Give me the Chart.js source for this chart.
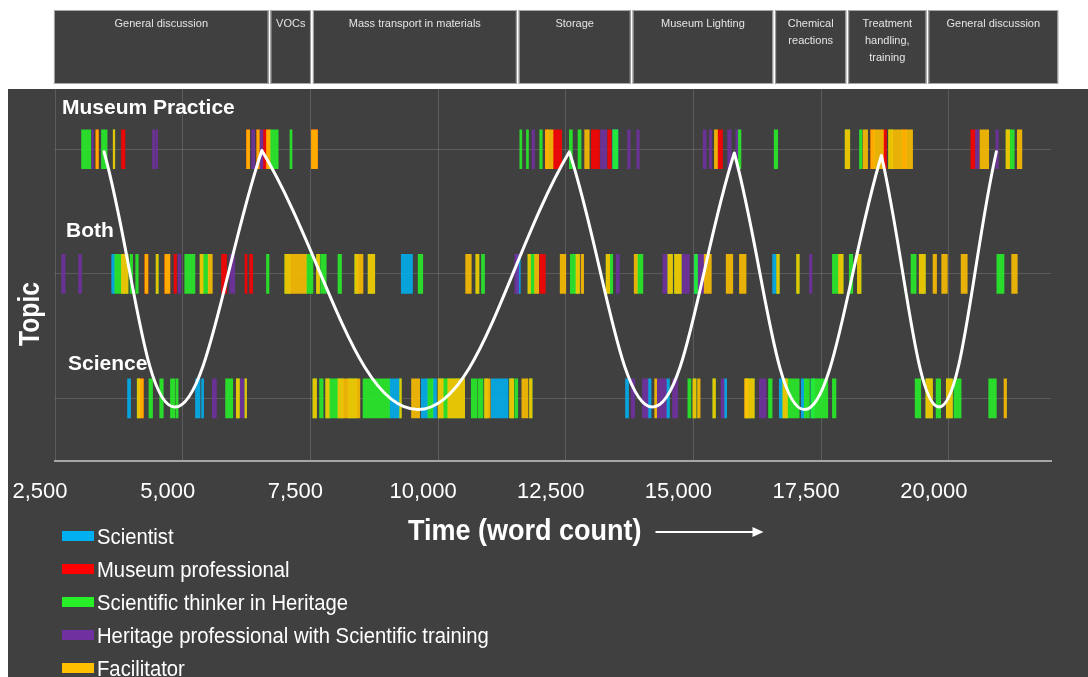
<!DOCTYPE html>
<html>
<head>
<meta charset="utf-8">
<script src="https://cdn.jsdelivr.net/npm/chart.js@4.4.0/dist/chart.umd.min.js"></script>
<style>
html, body { margin: 0; padding: 0; background: #fff; }
#wrap { position: relative; width: 1088px; height: 677px; overflow: hidden; }
#legend { position: absolute; left: 62px; top: 518px; }
#legend div { height: 33px; line-height: 33px; color: #fff; white-space: nowrap;
  font-family: "Liberation Sans", Arial, sans-serif; font-size: 22.5px; }
#legend span.box { display: inline-block; width: 32px; height: 10px; margin-right: 3px; vertical-align: middle; }
#legend span.txt { display: inline-block; transform: scaleX(0.9); transform-origin: left center; vertical-align: middle; }
</style>
</head>
<body>
<div id="wrap">
  <canvas id="TopicChart" width="1088" height="677"></canvas>
  <div id="legend"></div>
</div>
<script>
// rows of the topic axis (y = 1, 2, 3)
var rows = ['Science', 'Both', 'Museum Practice'];

// x axis ticks (word count)
var wordTicks = [2500, 5000, 7500, 10000, 12500, 15000, 17500, 20000];

// who spoke
var speakers = ['Scientist', 'Museum professional', 'Scientific thinker in Heritage',
  'Heritage professional with Scientific training', 'Facilitator'];
var palette = ['rgb(0, 176, 240)', 'rgb(255, 0, 0)', 'rgb(40, 240, 40)', 'rgb(112, 48, 160)', 'rgb(255, 192, 0)'];

// topic sections along the top (word count edges)
var sectionNames = ['General discussion', 'VOCs', 'Mass transport in materials', 'Storage',
  'Museum Lighting', 'Chemical\nreactions', 'Treatment\nhandling,\ntraining', 'General discussion'];
var sectionEdges = [2460, 6700, 7530, 11560, 13790, 16580, 18010, 19580, 22160];

// speaking turns: [start word, end word, row]
var scientistTurns = [
  [3610,3670,2],[9280,9500,2],[11540,11610,2],[16550,16620,2],
  [3920,3980,1],[5250,5340,1],[5370,5410,1],[9050,9250,1],[9670,9800,1],[9900,9970,1],[11040,11370,1],
  [13670,13730,1],[14110,14170,1],[14470,14530,1],[15600,15650,1],[16680,16750,1],[17110,17170,1]
];
var museumProTurns = [
  [3800,3870,3],[6570,6640,3],[12250,12420,3],[13000,13160,3],[13320,13390,3],[15470,15570,3],[18720,18780,3],[20430,20520,3],
  [4830,4880,2],[5760,5860,2],[6220,6260,2],[6310,6370,2],[11990,12100,2]
];
var thinkerTurns = [
  [3020,3200,3],[3410,3520,3],[6710,6870,3],[7100,7140,3],[11600,11640,3],[11730,11770,3],[11990,12040,3],[12570,12630,3],
  [12740,12800,3],[15880,15930,3],[16580,16650,3],[18250,18300,3],[21190,21280,3],
  [3670,3800,2],[3970,4020,2],[4080,4130,2],[5040,5240,2],[5400,5500,2],[6640,6690,2],[7420,7550,2],[7700,7810,2],
  [8040,8110,2],[9610,9700,2],[10850,10910,2],[11810,11890,2],[12590,12700,2],[13360,13420,2],[13900,14010,2],
  [17720,17840,2],[18050,18120,2],[19260,19360,2],[20940,21080,2],
  [4340,4410,1],[4550,4620,1],[4760,4850,1],[4870,4910,1],[5840,5980,1],[7680,7750,1],[7870,8040,1],[8530,9050,1],
  [9800,9900,1],[10100,10190,1],[10650,10760,1],[10780,10880,1],[11500,11560,1],[14890,14950,1],[16470,16540,1],
  [16840,17070,1],[17170,17270,1],[17370,17630,1],[17720,17790,1],[19340,19450,1],[19750,19840,1],[20100,20240,1],[20780,20930,1]
];
var heritageProTurns = [
  [3220,3250,3],[4410,4460,3],[4480,4510,3],[6350,6410,3],[6510,6570,3],[11840,11890,3],[13180,13300,3],[13710,13760,3],
  [13890,13940,3],[15190,15250,3],[15310,15360,3],[15670,15740,3],[15830,15880,3],[20520,20590,3],[20920,20970,3],
  [2630,2700,2],[2960,3020,2],[4910,4960,2],[5920,6020,2],[11500,11580,2],[13490,13550,2],[14400,14500,2],[14760,14920,2],
  [15080,15210,2],[17270,17320,2],
  [5580,5660,1],[6120,6220,1],[13780,13850,1],[14000,14110,1],[14290,14470,1],[14590,14690,1],[15540,15600,1],[16290,16420,1]
];
var facilitatorTurns = [
  [12150,12250,3],[12870,12960,3],[15410,15470,3],[18320,18410,3],[18540,18720,3],[18900,19090,3],[19160,19290,3],
  [20610,20780,3],[21340,21430,3],
  [5500,5580,2],[7100,7420,2],[8430,8530,2],[10540,10650,2],[11890,11970,2],[12390,12500,2],[12800,12850,2],[13840,13900,2],
  [15210,15350,2],[15640,15770,2],[15900,16030,2],[19690,19760,2],[19860,19970,2],[20240,20360,2],[21230,21340,2],
  [8140,8240,1],[8400,8470,1],[9480,9640,1],[10960,11020,1],[11640,11760,1],[14240,14280,1],[15080,15130,1],[16000,16060,1],[21080,21130,1]
];
// turns where two colours overlap in the picture
var orangeTurns = [ // museum professional + facilitator
  [3300,3350,3],[6250,6310,3],[6450,6500,3],[6640,6710,3],[7520,7640,3],[12100,12150,3],[18470,18540,3],[19090,19160,3],
  [4260,4320,2],[4650,4750,2],
  [4160,4230,1]
];
var oliveTurns = [ // scientific thinker + facilitator
  [3640,3670,3],[17970,18060,3],[18820,18900,3],[21120,21190,3],
  [3800,3930,2],[4480,4520,2],[5340,5400,2],[7000,7100,2],[7620,7680,2],[8370,8430,2],[8630,8760,2],[10740,10800,2],
  [11760,11810,2],[12700,12770,2],[13290,13360,2],[14500,14590,2],[14630,14760,2],[16630,16680,2],[17020,17070,2],
  [17840,17930,2],[18210,18280,2],[19420,19540,2],
  [4110,4160,1],[6050,6110,1],[6220,6250,1],[7550,7620,1],[7800,7870,1],[8040,8140,1],[8240,8400,1],[9250,9280,1],
  [10000,10100,1],[10190,10520,1],[10910,10960,1],[11400,11480,1],[11790,11840,1],[14990,15050,1],[15380,15430,1],
  [16020,16190,1],[16750,16840,1],[19550,19680,1],[19950,20070,1]
];
var tealTurns = [ // scientist + scientific thinker
  [13420,13520,3],[15020,15080,2],[17300,17370,1]
];

// white topic curve: turning points
var curveWords = [3460, 4850, 6550, 9600, 12570, 14200, 15800, 17170, 18680, 19810, 20930];
var curveLevel = [2.98, 0.93, 2.99, 0.91, 2.98, 0.93, 2.97, 0.91, 2.95, 0.93, 2.98];

var sansFont = '"Liberation Sans", Arial, sans-serif';

function toBars(list) {
  return list.map(function (s) { return { x: [s[0], s[1]], y: s[2] }; });
}

function withAlpha(c, a) {
  return c.replace('rgb(', 'rgba(').replace(')', ', ' + a + ')');
}

// text squeezed sideways, the picture uses a narrow face
function narrowText(ctx, text, x, y, sx) {
  ctx.save();
  ctx.translate(x, y);
  ctx.scale(sx, 1);
  ctx.fillText(text, 0, 0);
  ctx.restore();
}

var turnsBySpeaker = [
  scientistTurns.concat(tealTurns),
  museumProTurns.concat(orangeTurns),
  thinkerTurns.concat(oliveTurns, tealTurns),
  heritageProTurns,
  facilitatorTurns.concat(orangeTurns, oliveTurns)
];
// drawing order: facilitator on top, scientist at the bottom
var drawOrder = [5, 4, 2, 3, 1];

var datasets = speakers.map(function (name, i) {
  return {
    label: name,
    type: 'bar',
    indexAxis: 'y',
    grouped: false,
    order: drawOrder[i],
    data: toBars(turnsBySpeaker[i]),
    backgroundColor: withAlpha(palette[i], 0.88),
    borderWidth: 0,
    barThickness: 39
  };
});

// the curve turns sharply at the top, so the inner peaks are given twice
var curvePoints = [];
curveWords.forEach(function (w, i) {
  curvePoints.push({ x: w, y: curveLevel[i] });
  if (i > 0 && i < curveWords.length - 1 && curveLevel[i] > 2) curvePoints.push({ x: w, y: curveLevel[i] });
});

datasets.push({
  label: 'Topic',
  type: 'line',
  indexAxis: 'x',
  order: 0,
  data: curvePoints,
  borderColor: '#ffffff',
  borderWidth: 3,
  pointRadius: 0,
  tension: 0.4,
  borderJoinStyle: 'round',
  borderCapStyle: 'round',
  fill: false
});

var rowLabelLift = [34, 43, 41];
var rowLabelLeft = [68, 66, 62];

var decor = {
  id: 'decor',
  beforeDraw: function (chart) {
    var ctx = chart.ctx, xs = chart.scales.x;
    ctx.save();
    ctx.fillStyle = '#ffffff';
    ctx.fillRect(0, 0, chart.width, chart.height);
    ctx.fillStyle = '#404040';
    ctx.fillRect(8, 89, chart.width - 8, chart.height - 89);

    // topic sections
    ctx.font = '11px ' + sansFont;
    ctx.textAlign = 'center';
    ctx.textBaseline = 'middle';
    for (var i = 0; i < sectionNames.length; i++) {
      var x0 = xs.getPixelForValue(sectionEdges[i]);
      var x1 = xs.getPixelForValue(sectionEdges[i + 1]);
      ctx.fillStyle = '#404040';
      ctx.fillRect(x0 + 1, 10, x1 - x0 - 2, 74);
      ctx.strokeStyle = '#a8a8a8';
      ctx.lineWidth = 1;
      ctx.strokeRect(x0 + 1.5, 10.5, x1 - x0 - 3, 73);
      ctx.fillStyle = '#e4e4e4';
      sectionNames[i].split('\n').forEach(function (line, k) {
        ctx.fillText(line, (x0 + x1) / 2, 24 + k * 17);
      });
    }
    ctx.restore();
  },
  afterDraw: function (chart) {
    var ctx = chart.ctx, ys = chart.scales.y;
    ctx.save();
    ctx.fillStyle = '#ffffff';
    ctx.textBaseline = 'middle';
    ctx.textAlign = 'left';

    // row names
    ctx.font = 'bold 21px ' + sansFont;
    rows.forEach(function (name, i) {
      ctx.fillText(name, rowLabelLeft[i], ys.getPixelForValue(i + 1) - rowLabelLift[i]);
    });

    // x title with arrow
    ctx.font = 'bold 30px ' + sansFont;
    var title = 'Time (word count)';
    narrowText(ctx, title, 408, 532, 0.9);
    var ax = 408 + ctx.measureText(title).width * 0.9 + 14;
    ctx.strokeStyle = '#ffffff';
    ctx.lineWidth = 2;
    ctx.beginPath();
    ctx.moveTo(ax, 532);
    ctx.lineTo(ax + 100, 532);
    ctx.stroke();
    ctx.beginPath();
    ctx.moveTo(ax + 108, 532);
    ctx.lineTo(ax + 97, 527);
    ctx.lineTo(ax + 97, 537);
    ctx.closePath();
    ctx.fill();

    // y title
    ctx.translate(31, 314);
    ctx.rotate(-Math.PI / 2);
    ctx.textAlign = 'center';
    ctx.font = 'bold 29px ' + sansFont;
    narrowText(ctx, 'Topic', 0, 0, 0.85);
    ctx.restore();
  }
};

var gridColor = 'rgba(255, 255, 255, 0.15)';

var chart = new Chart(document.getElementById('TopicChart').getContext('2d'), {
  type: 'bar',
  data: { datasets: datasets },
  plugins: [decor],
  options: {
    responsive: false,
    devicePixelRatio: 1,
    animation: false,
    layout: { padding: { left: 55, right: 37, top: 87, bottom: 154 } },
    plugins: { legend: { display: false }, tooltip: { enabled: false } },
    scales: {
      x: {
        type: 'linear',
        min: 2500,
        max: 22000,
        offset: false,
        beginAtZero: false,
        afterBuildTicks: function (axis) {
          axis.ticks = wordTicks.map(function (v) { return { value: v }; });
        },
        ticks: {
          color: '#ffffff',
          padding: 18,
          labelOffset: -15,
          maxRotation: 0,
          autoSkip: false,
          font: { family: sansFont, size: 22 },
          callback: function (v) { return Number(v).toLocaleString('en-US'); }
        },
        grid: { color: gridColor, drawTicks: false, offset: false },
        border: { color: 'rgba(200, 200, 200, 0.75)', width: 2 }
      },
      y: {
        type: 'linear',
        min: 0.5,
        max: 3.5,
        offset: false,
        beginAtZero: false,
        afterBuildTicks: function (axis) {
          axis.ticks = [1, 2, 3].map(function (v) { return { value: v }; });
        },
        ticks: { display: false },
        grid: { color: gridColor, drawTicks: false, offset: false },
        border: { display: false }
      }
    }
  }
});

// legend list under the chart
var legendBox = document.getElementById('legend');
speakers.forEach(function (name, i) {
  var row = document.createElement('div');
  var box = document.createElement('span');
  box.className = 'box';
  box.style.background = palette[i];
  var txt = document.createElement('span');
  txt.className = 'txt';
  txt.textContent = name;
  row.appendChild(box);
  row.appendChild(txt);
  legendBox.appendChild(row);
});
</script>
</body>
</html>
